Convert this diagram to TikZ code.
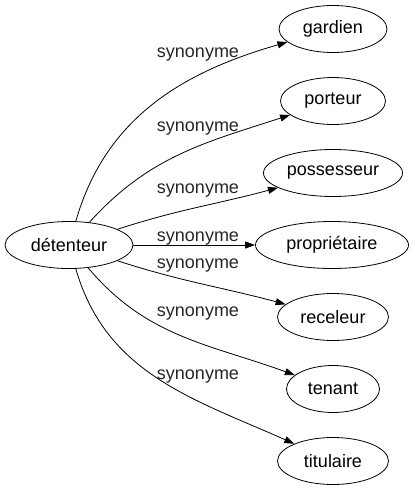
\documentclass[tikz,border=0pt]{standalone}
\usepackage{fontspec}
\setmainfont{Liberation Sans}
\usetikzlibrary{shapes.geometric,arrows.meta}
\begin{document}
\begin{tikzpicture}[x=1pt,y=1pt,
  word/.style={ellipse,draw,line width=0.8pt,inner sep=0pt,minimum height=47pt,font=\fontsize{18}{20}\selectfont},
  rel/.style={font=\fontsize{18}{20}\selectfont,inner sep=0pt,text=black!85},
  edge/.style={line width=0.8pt,-{Triangle[length=10pt,width=7pt]}}]
\useasboundingbox (0,0) rectangle (414,-491);
\node[word,minimum width=128pt] (det) at (69,-245) {détenteur};
\node[word,minimum width=108pt] (gar) at (333,-29) {gardien};
\node[word,minimum width=105pt] (por) at (333,-101) {porteur};
\node[word,minimum width=139pt] (pos) at (333,-173) {possesseur};
\node[word,minimum width=153pt] (pro) at (332,-245) {propriétaire};
\node[word,minimum width=111pt] (rec) at (333,-317) {receleur};
\node[word,minimum width=93pt] (ten) at (333,-389) {tenant};
\node[word,minimum width=111pt] (tit) at (333,-461) {titulaire};
\draw[edge] (det) to[out=74,in=196] (gar);
\draw[edge] (det) to[out=48,in=198] (por);
\draw[edge] (det) to[out=18,in=195] (pos);
\draw[edge] (det) -- (pro);
\draw[edge] (det) to[out=-18,in=165] (rec);
\draw[edge] (det) to[out=-50,in=160] (ten);
\draw[edge] (det) to[out=-74,in=156] (tit);
\node[rel] (l1) at (198,-54.5) {synonyme};
\node[rel] (l2) at (198,-129) {synonyme};
\node[rel] (l3) at (198,-191) {synonyme};
\node[rel] (l4) at (198,-238.5) {synonyme};
\node[rel] (l5) at (198,-266) {synonyme};
\node[rel] (l6) at (198,-314) {synonyme};
\node[rel] (l7) at (198,-377) {synonyme};
\end{tikzpicture}
\end{document}
